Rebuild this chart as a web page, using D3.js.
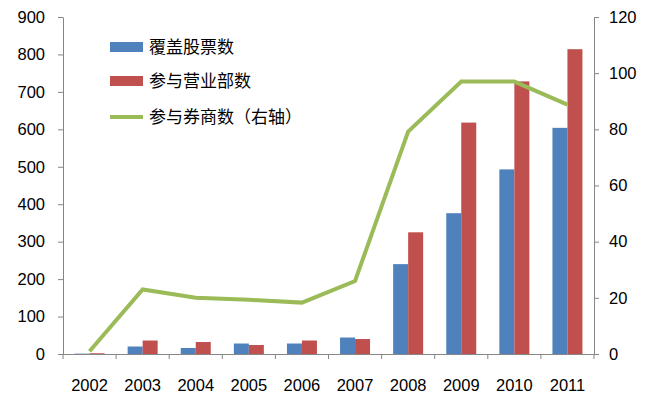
<!DOCTYPE html>
<html><head><meta charset="utf-8">
<script src="https://cdn.jsdelivr.net/npm/d3@7"></script>
<style>body{margin:0;background:#fff;} svg{display:block;}</style>
</head><body>
<svg id="c" width="648" height="402"></svg>
<script>
const years = ["2002","2003","2004","2005","2006","2007","2008","2009","2010","2011"];
const stocks = [1, 20, 16, 28, 28, 44, 240, 376, 493, 604];
const branches = [2, 36, 32, 24, 36, 40, 325, 618, 728, 814];
const brokers = [1, 23, 20, 19.3, 18.3, 26, 79.2, 97, 97, 88.8];
const leftTicks = [0,100,200,300,400,500,600,700,800,900];
const rightTicks = [0,20,40,60,80,100,120];
const seriesNames = ["覆盖股票数","参与营业部数","参与券商数（右轴）"];
const colors = ["#4F81BD","#C0504D","#9BBB59"];

const svg = d3.select("#c");
const L = 63, R = 594, T = 17, B = 354;
const x = d3.scaleBand().domain(years).range([L, R]).paddingInner(0).paddingOuter(0);
const y = d3.scaleLinear().domain([0, 900]).range([B, T]);
const y2 = d3.scaleLinear().domain([0, 120]).range([B, T]);
const inner = d3.scaleBand().domain([0,1]).range([0, 30]);
const off = (x.bandwidth() - 30) / 2;

const font = "'Liberation Sans', Arial, sans-serif";
const axisColor = "#868686";

// bars
[stocks, branches].forEach((s, i) => {
  svg.append("g").selectAll("rect").data(s).join("rect")
    .attr("x", (d, j) => x(years[j]) + off + inner(i))
    .attr("y", d => y(d))
    .attr("width", inner.bandwidth())
    .attr("height", d => B - y(d))
    .attr("fill", colors[i]);
});

// axes
function styleAxis(g) {
  g.selectAll("path, line").attr("stroke", axisColor);
  g.selectAll("text").attr("fill", "#000").style("font-family", font).style("font-size", "16.5px");
}
svg.append("g").attr("transform", `translate(${L},0)`)
  .call(d3.axisLeft(y).tickValues(leftTicks).tickSize(5).tickSizeOuter(0).tickPadding(13))
  .call(styleAxis);
svg.append("g").attr("transform", `translate(${R},0)`)
  .call(d3.axisRight(y2).tickValues(rightTicks).tickSize(5).tickSizeOuter(0).tickPadding(10))
  .call(styleAxis);
const xg = svg.append("g").attr("transform", `translate(0,${B})`)
  .call(d3.axisBottom(x).tickSize(0).tickSizeOuter(0).tickPadding(25))
  .call(styleAxis);
xg.select(".domain").attr("d", `M${L},0.5H${R}`);
// boundary ticks
const bounds = years.map(d => x(d)).concat([R]);
svg.append("g").selectAll("line").data(bounds).join("line")
  .attr("x1", d => d).attr("x2", d => d)
  .attr("y1", B).attr("y2", B + 5)
  .attr("stroke", axisColor);

// line
const line = d3.line().x((d, i) => x(years[i]) + x.bandwidth() / 2).y(d => y2(d));
svg.append("path").datum(brokers).attr("d", line)
  .attr("fill", "none").attr("stroke", colors[2]).attr("stroke-width", 4);

// legend
const lg = svg.append("g");
const ly = [47, 81, 117];
seriesNames.forEach((n, i) => {
  if (i < 2) {
    lg.append("rect").attr("x", 110).attr("y", ly[i] - 5).attr("width", 33).attr("height", 10).attr("fill", colors[i]);
  } else {
    lg.append("line").attr("x1", 110).attr("x2", 143).attr("y1", ly[i]).attr("y2", ly[i])
      .attr("stroke", colors[i]).attr("stroke-width", 4);
  }
  lg.append("text").attr("x", 149).attr("y", ly[i]).attr("dy", "0.36em")
    .style("font-family", "'Noto Sans CJK SC', sans-serif").style("font-size", "17px")
    .attr("fill", "#000").text(n);
});
</script>
</body></html>
